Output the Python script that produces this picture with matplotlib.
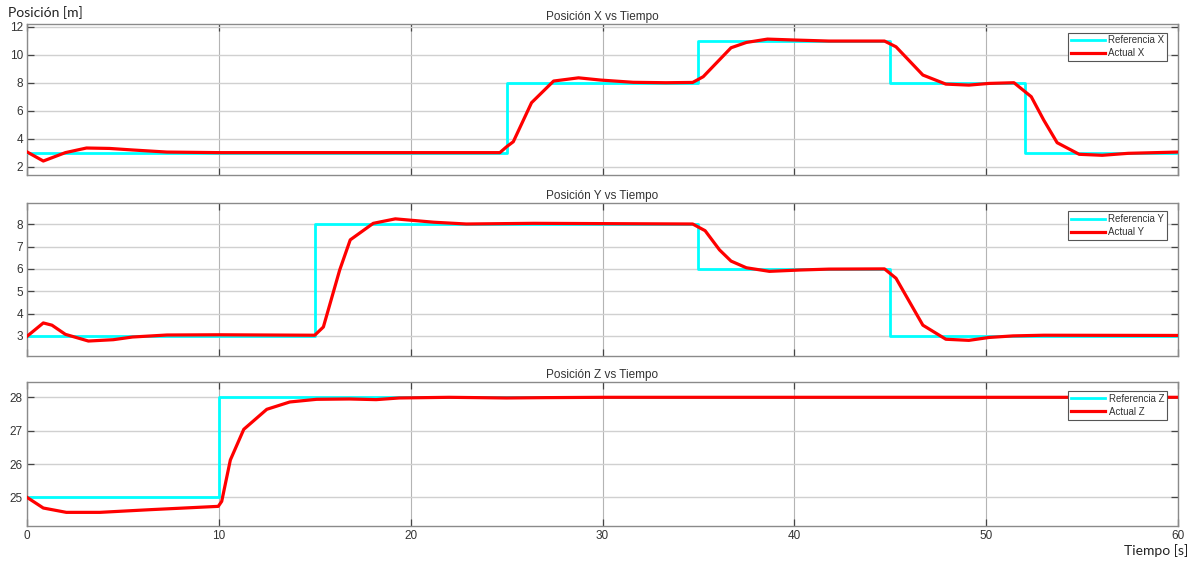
import matplotlib
matplotlib.use("Agg")
import matplotlib.pyplot as plt

# Reference (step) signals: change times and levels
ref_t = [0, 25, 35, 45, 52, 60]
ref_x = [3, 8, 11, 8, 3, 3]
ref_ty = [0, 15, 35, 45, 60]
ref_y = [3, 8, 6, 3, 3]
ref_tz = [0, 10, 60]
ref_z = [25, 28, 28]

# Actual trajectories
act_tx = [0, 0.85, 2.0, 3.1, 4.3, 5.5, 7.3, 10, 20, 24.65, 25.0, 25.35, 26.3, 27.45, 28.75, 29.9,
          31.6, 33.3, 34.7, 35.25, 36.7, 37.5, 38.6, 40.1, 41.8, 44.7, 45.3, 46.7, 47.9, 49.1,
          50.15, 51.45, 52.35, 53.0, 53.7, 54.85, 56.05, 57.4, 60]
act_x = [3.05, 2.4, 3.0, 3.33, 3.3, 3.19, 3.04, 3.0, 3.0, 3.0, 3.42, 3.78, 6.57, 8.12, 8.35, 8.19,
         8.03, 8.0, 8.02, 8.43, 10.5, 10.88, 11.12, 11.05, 10.98, 10.98, 10.57, 8.55, 7.9, 7.83,
         7.95, 8.0, 7.0, 5.33, 3.71, 2.88, 2.81, 2.95, 3.04]

act_ty = [0, 0.85, 1.3, 2.0, 3.2, 4.5, 5.5, 7.3, 10, 15.0, 15.45, 16.3, 16.85, 18.05, 19.2, 21.2,
          22.9, 26.4, 34.7, 35.35, 36.1, 36.7, 37.5, 38.7, 40.3, 41.8, 44.7, 45.3, 46.7, 47.9,
          49.1, 50.15, 51.4, 53, 60]
act_y = [2.98, 3.58, 3.48, 3.07, 2.77, 2.83, 2.95, 3.04, 3.05, 3.03, 3.4, 5.95, 7.3, 8.04, 8.24, 8.09,
         8.01, 8.04, 8.01, 7.71, 6.85, 6.35, 6.05, 5.89, 5.95, 5.99, 6.0, 5.58, 3.48, 2.85,
         2.8, 2.93, 3.0, 3.03, 3.02]

act_tz = [0, 0.85, 2.05, 3.8, 6.4, 9.97, 10.15, 10.6, 11.3, 12.5, 13.7, 15.1, 16.8, 18.2, 19.4,
          22, 25, 27, 30, 40, 50, 60]
act_z = [25.0, 24.68, 24.55, 24.55, 24.63, 24.73, 24.88, 26.12, 27.04, 27.64, 27.86, 27.94, 27.95,
         27.93, 27.98, 28.0, 27.98, 27.99, 28.0, 28.0, 28.0, 28.0]

titles = ["Posición X vs Tiempo", "Posición Y vs Tiempo", "Posición Z vs Tiempo"]
ref_labels = ["Referencia X", "Referencia Y", "Referencia Z"]
act_labels = ["Actual X", "Actual Y", "Actual Z"]
x_ticks = [0, 10, 20, 30, 40, 50, 60]
yticks_x = [2, 4, 6, 8, 10, 12]
yticks_y = [3, 4, 5, 6, 7, 8]
yticks_z = [25, 26, 27, 28]

plt.rcParams['font.family'] = ['Liberation Sans', 'DejaVu Sans']
fig = plt.figure(figsize=(11.96, 5.62), dpi=100)

rects = [
    [27/1196, 1-175/562, 1151/1196, 151/562],
    [27/1196, 1-356/562, 1151/1196, 153/562],
    [27/1196, 1-525.7/562, 1151/1196, 143.4/562],
]
ylims = [(1.4, 12.2), (2.1, 8.95), (24.15, 28.45)]
refs = [(ref_t, ref_x), (ref_ty, ref_y), (ref_tz, ref_z)]
acts = [(act_tx, act_x), (act_ty, act_y), (act_tz, act_z)]
yticks = [yticks_x, yticks_y, yticks_z]
heights_px = [151, 153, 143.4]

for i in range(3):
    ax = fig.add_axes(rects[i])
    rt, rv = refs[i]
    at, av = acts[i]
    ax.step(rt, rv, where='post', color='#00FFFF', lw=2.0, label=ref_labels[i], zorder=3)
    ax.plot(at, av, color='#FF0000', lw=2.3, label=act_labels[i], zorder=4)
    ax.set_xlim(0, 60)
    ax.set_ylim(*ylims[i])
    ax.set_xticks(x_ticks)
    ax.set_yticks(yticks[i])
    if i < 2:
        ax.set_xticklabels([])
    ax.tick_params(direction='in', length=5, width=0.9, labelsize=8.5, colors='#444444',
                   labelcolor='#333333', pad=3, top=True, right=True)
    ax.grid(axis='y', color='#d0d0d0', lw=1.0)
    ax.grid(axis='x', color='#b4b4b4', lw=0.8)
    for s in ax.spines.values():
        s.set_color('#8a8a8a')
        s.set_linewidth(1.0)
    ax.set_title(titles[i], fontsize=8.5, color='#333333', pad=3)
    leg = ax.legend(loc='upper right', bbox_to_anchor=(1 - 11/1151, 1 - 8.5/heights_px[i]),
                    fontsize=7, frameon=True, fancybox=False,
                    borderpad=0.3, handlelength=3.5, labelspacing=0.3,
                    borderaxespad=0, handletextpad=0.35, framealpha=1)
    leg.get_frame().set_edgecolor('#555555')
    leg.get_frame().set_linewidth(0.8)
    for t in leg.get_texts():
        t.set_color('#333333')

fig.text(8/1196, 1-13/562, "Posición [m]", fontsize=10, color='#222222', va='center', ha='left',
         family=['Lato', 'DejaVu Sans'])
fig.text(1188/1196, 1-551/562, "Tiempo [s]", fontsize=10, color='#222222', va='center', ha='right',
         family=['Lato', 'DejaVu Sans'])

fig.savefig("out.png", dpi=100, facecolor='white')
